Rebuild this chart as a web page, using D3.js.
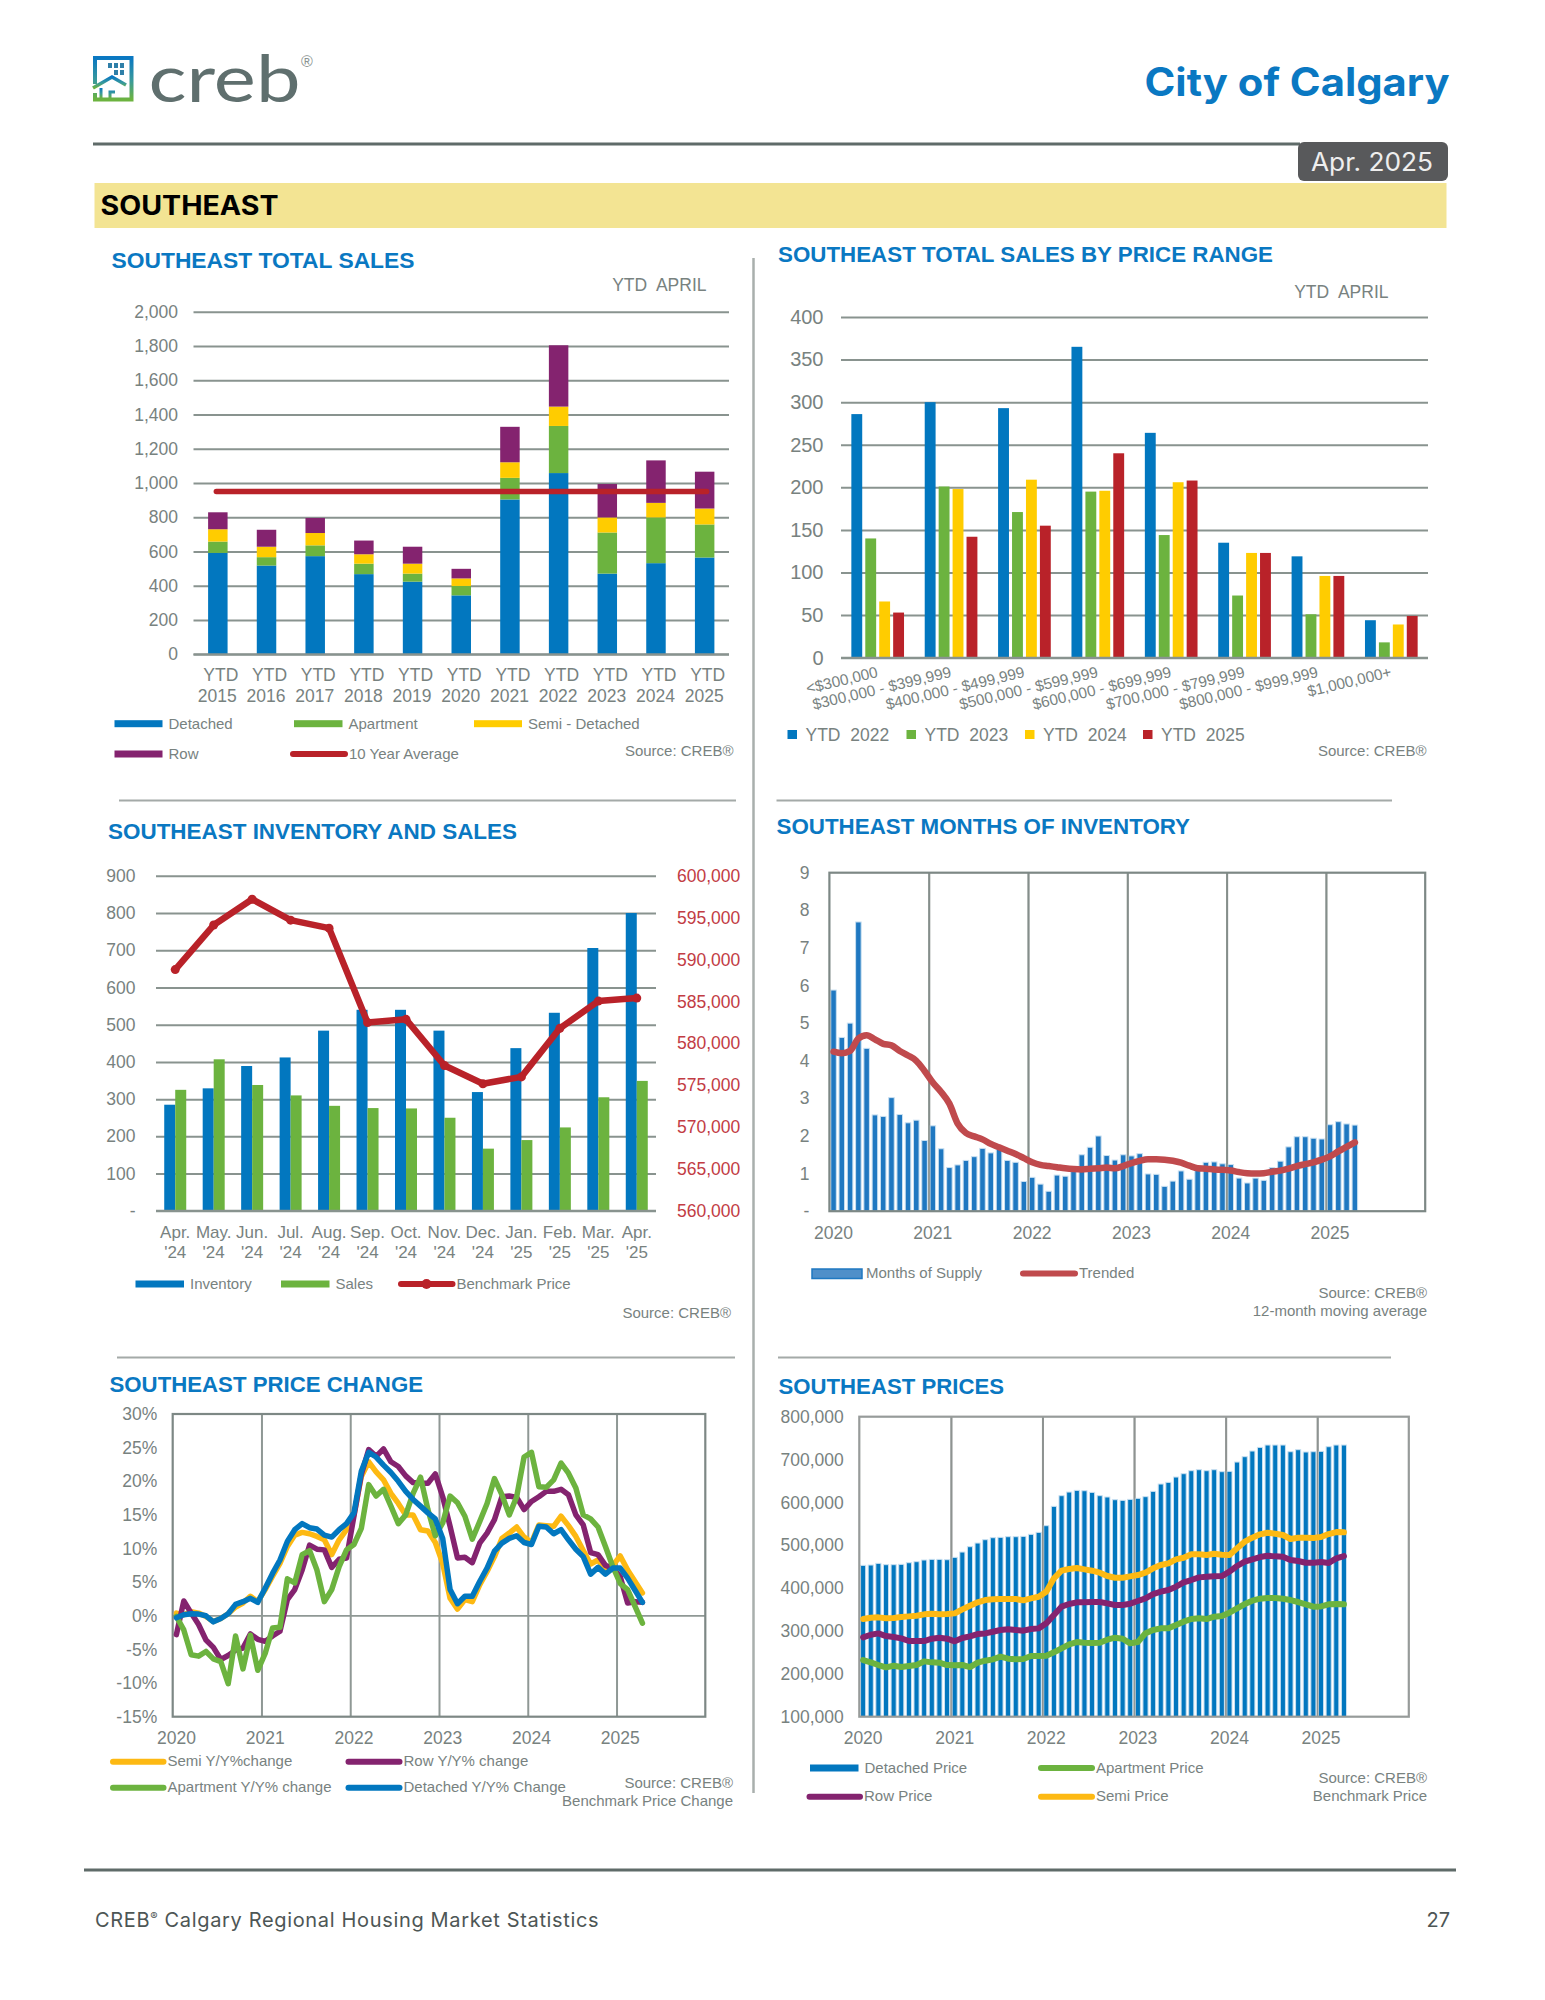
<!DOCTYPE html>
<html>
<head>
<meta charset="utf-8">
<title>Southeast - City of Calgary</title>
<script src="https://cdn.jsdelivr.net/npm/d3@7"></script>
<style>
  body { margin: 0; background: #fff; }
  svg { display: block; }
  text { font-family: "Liberation Sans", Arial, sans-serif; }
</style>
</head>
<body>
<script>
// Chart 1: total sales
const years = ["2015", "2016", "2017", "2018", "2019", "2020", "2021", "2022", "2023", "2024", "2025"];
const salesDetached = [592, 518, 573, 468, 424, 344, 904, 1058, 471, 532, 565];
const salesApartment = [66, 49, 63, 61, 47, 55, 126, 275, 240, 267, 193];
const salesSemi = [72, 61, 72, 55, 58, 44, 91, 113, 88, 85, 93];
const salesRow = [99, 99, 88, 80, 99, 56, 207, 358, 195, 248, 215];
const tenYearAverage = 950;

// Chart 2: sales by price range
const priceRanges = ["<$300,000", "$300,000 - $399,999", "$400,000 - $499,999", "$500,000 - $599,999",
  "$600,000 - $699,999", "$700,000 - $799,999", "$800,000 - $999,999", "$1,000,000+"];
const rangeYears = ["YTD  2022", "YTD  2023", "YTD  2024", "YTD  2025"];
const range2022 = [286, 300, 293, 365, 264, 135, 119, 44];
const range2023 = [140, 201, 171, 195, 144, 73, 51, 18];
const range2024 = [66, 198, 209, 196, 206, 123, 96, 39];
const range2025 = [53, 142, 155, 240, 208, 123, 96, 49];

// Chart 3: inventory and sales
const invMonths = ["Apr.|'24", "May.|'24", "Jun.|'24", "Jul.|'24", "Aug.|'24", "Sep.|'24", "Oct.|'24",
  "Nov.|'24", "Dec.|'24", "Jan.|'25", "Feb.|'25", "Mar.|'25", "Apr.|'25"];
const inventory = [285, 329, 389, 412, 484, 540, 540, 484, 319, 437, 532, 706, 800];
const sales = [325, 407, 338, 310, 282, 276, 275, 250, 167, 190, 224, 305, 349];
const benchmark = [588800, 594120, 597200, 594700, 593750, 582490, 582860, 577350, 575170, 575990, 581790, 585040, 585400];

// Chart 4: months of inventory, Jan 2020 to Apr 2025
const monthsSupply = [5.88, 4.62, 5.0, 7.69, 4.33, 2.56, 2.52, 3.02, 2.57, 2.35, 2.42, 1.88,
  2.27, 1.66, 1.16, 1.23, 1.35, 1.45, 1.67, 1.55, 1.72, 1.35, 1.30, 0.79,
  0.9, 0.72, 0.53, 0.96, 0.93, 1.09, 1.5, 1.70, 2.0, 1.48, 1.36, 1.5,
  1.47, 1.53, 0.99, 0.98, 0.66, 0.80, 1.07, 0.85, 1.13, 1.30, 1.31, 1.26,
  1.24, 0.88, 0.75, 0.88, 0.82, 1.16, 1.33, 1.71, 1.98, 1.98, 1.94, 1.92,
  2.30, 2.38, 2.32, 2.29];
const monthsTrended = [4.24, 4.20, 4.26, 4.59, 4.68, 4.57, 4.45, 4.41, 4.26, 4.14, 4.0, 3.73,
  3.42, 3.17, 2.86, 2.33, 2.08, 1.99, 1.91, 1.79, 1.70, 1.61, 1.52, 1.41,
  1.30, 1.23, 1.20, 1.17, 1.14, 1.12, 1.11, 1.13, 1.14, 1.16, 1.14, 1.20,
  1.28, 1.34, 1.38, 1.38, 1.37, 1.34, 1.29, 1.21, 1.14, 1.13, 1.11, 1.10,
  1.08, 1.04, 1.01, 1.00, 1.01, 1.05, 1.08, 1.13, 1.20, 1.25, 1.30, 1.37,
  1.46, 1.59, 1.71, 1.83];

// Chart 5: price change, percent
const semiChange = [0.4, 0.15, 0.6, 0.4, -0.1, -0.85, -0.4, 0.3, 1.3, 1.9, 2.9, 2.1,
  3.9, 5.9, 7.8, 10.3, 12.0, 12.4, 12.2, 11.8, 11.3, 9.1, 11.3, 12.8,
  15, 20.7, 22.9, 21.4, 20.2, 18.2, 16.7, 15, 15, 12.8, 12.6, 10.9,
  7.8, 2.6, 1.0, 2.4, 2.1, 4.6, 6.6, 8.8, 11.5, 12.3, 13.2, 11.7,
  10.9, 13.5, 13.4, 13.3, 14.8, 13.4, 11.8, 9.7, 7.7, 8.3, 6.8, 7.5,
  8.9, 6.8, 5.1, 3.4];
const rowChange = [-2.8, 2.2, 0.4, -1.3, -3.6, -4.7, -6.5, -5.9, -5.1, -4.8, -2.7, -3.5,
  -3.8, -3.0, -2.3, 2.4, 3.9, 6.8, 10.5, 9.9, 9.8, 7.2, 8.4, 8.6,
  14.8, 21, 24.7, 23.7, 24.8, 22.9, 22.2, 20.8, 19.8, 19.7, 19.7, 21.1,
  17.7, 13.3, 8.6, 8.7, 7.9, 10.8, 12.3, 14.3, 17.7, 17.8, 17.6, 15.8,
  17.0, 17.7, 18.5, 18.5, 18.8, 18, 15, 13.5, 9.4, 9.1, 7.5, 7.1,
  5.8, 1.9, 2.1, 2.0];
const apartmentChange = [-0.1, -2.1, -5.8, -6.0, -5.3, -6.4, -6.8, -10.1, -3.0, -7.9, -2.9, -8.1,
  -5.6, -1.8, -1.7, 5.5, 4.9, 9.1, 9.7, 6.8, 2.1, 3.9, 7.3, 9.8,
  10.6, 13, 19.5, 17.8, 18.8, 16.3, 13.7, 15, 18.2, 20.6, 15.8, 11.9,
  13.8, 17.8, 16.8, 14.8, 11.4, 14.0, 16.7, 20.4, 18, 15, 17.7, 23.6,
  24.3, 19.2, 19.1, 20.2, 22.7, 21.2, 19, 15, 14.4, 13.2, 10.3, 7.3,
  4.8, 3.9, 1.4, -1.1];
const detachedChange = [-0.3, 0.15, 0.3, 0.25, 0, -0.9, -0.4, 0.3, 1.7, 2.1, 2.6, 2.0,
  4.1, 6.3, 8.3, 11.05, 12.8, 13.7, 13.1, 12.9, 12.0, 11.7, 12.8, 13.7,
  15.3, 21.5, 24.3, 23.6, 22.4, 21.3, 20.0, 18.5, 17.3, 16.3, 15.3, 14.4,
  11.5, 3.9, 1.8, 2.9, 2.9, 5.1, 7.1, 9.6, 10.8, 11.5, 11.9, 10.9,
  10.6, 13.3, 13.2, 12.2, 12.8, 11.3, 9.9, 8.8, 6.2, 7.2, 6.2, 7.1,
  7.1, 5.6, 3.8, 2.0];

// Chart 6: benchmark prices
const detachedPrice = [453100, 453900, 457800, 454700, 454700, 455500, 459300, 461700, 465600, 467100, 467100, 466300,
  471800, 484200, 496700, 505200, 513000, 517700, 518500, 520000, 520000, 520800, 525500, 530100,
  545700, 590800, 615700, 624200, 628100, 627300, 623400, 615700, 612600, 606300, 604800, 607100,
  609500, 613400, 625800, 642900, 646800, 659200, 667000, 674000, 676300, 674000, 676300, 671700,
  672500, 694200, 706700, 719900, 728400, 733900, 733900, 733900, 718300, 723000, 717600, 718300,
  719100, 730000, 733900, 733900];
const semiPrice = [327900, 331000, 331800, 329500, 330200, 332600, 334100, 335700, 338800, 340300, 338800, 339600,
  341100, 350400, 359000, 366800, 372200, 373800, 374500, 374500, 374500, 371500, 376100, 380000,
  391700, 422800, 440700, 444600, 446900, 443800, 440700, 436000, 428200, 424300, 424300, 427500,
  430600, 436000, 446100, 453900, 457800, 467100, 471000, 478800, 478800, 477200, 480300, 478000,
  477200, 492800, 508300, 517700, 525500, 529300, 527000, 523900, 514600, 517700, 517700, 516900,
  519200, 526200, 530900, 530100];
const rowPrice = [285100, 291300, 294400, 288200, 285900, 282800, 276600, 276600, 276600, 282000, 284300, 282000,
  275800, 283600, 287400, 292900, 294400, 298300, 302200, 303800, 302200, 300700, 304600, 306100,
  317800, 337200, 356700, 362900, 366800, 366800, 367600, 367600, 364500, 360600, 360600, 363700,
  369900, 376100, 386200, 391700, 395600, 403300, 413500, 418900, 425100, 426700, 427500, 428200,
  438300, 451600, 461700, 467100, 472600, 475700, 474100, 473300, 465600, 463200, 459300, 459300,
  460900, 458600, 469500, 474900];
const apartmentPrice = [232200, 226800, 220600, 215100, 219000, 215900, 218200, 220600, 229100, 226800, 226000, 220600,
  219800, 220600, 215900, 226000, 230700, 233800, 240000, 235300, 233800, 234600, 241600, 241600,
  242300, 250100, 259500, 268800, 274200, 272700, 271900, 272700, 279700, 284300, 282000, 271100,
  274200, 294500, 302200, 306100, 306100, 313900, 321700, 327900, 329500, 327900, 333300, 334900,
  342700, 352800, 362900, 370700, 375300, 376900, 376900, 375300, 372200, 367600, 362100, 356700,
  357400, 362100, 362900, 362100];

const BLUE = "#0277bf", GREEN = "#6cb33f", YELLOW = "#ffcc00", PURPLE = "#84236f", RED = "#b92229";
const TITLE_BLUE = "#0a78c2", TEXT = "#78827f", GRID = "#89938f";
const comma = d3.format(",");

const svg = d3.select("body").append("svg")
  .attr("width", 1545)
  .attr("height", 2000);

// small helpers
function label(x, y, str, size, opts) {
  opts = opts || {};
  const t = svg.append("text")
    .attr("x", x)
    .attr("y", y)
    .attr("font-size", size)
    .attr("fill", opts.fill || TEXT)
    .attr("text-anchor", opts.anchor || "start")
    .attr("xml:space", "preserve")
    .style("white-space", "pre")
    .text(str);
  if (opts.bold) t.attr("font-weight", "bold");
  if (opts.family) t.style("font-family", opts.family);
  if (opts.width) t.attr("textLength", opts.width).attr("lengthAdjust", "spacingAndGlyphs");
  return t;
}
function rule(x1, x2, y1, y2, color, w) {
  svg.append("line").attr("x1", x1).attr("x2", x2).attr("y1", y1).attr("y2", y2)
    .attr("stroke", color).attr("stroke-width", w);
}
function title(x, y, str, width) {
  label(x, y, str, 22, {fill: TITLE_BLUE, bold: true, width: width});
}
function swatch(x1, x2, y, color, txt, base) {
  svg.append("rect").attr("x", x1).attr("y", y - 3.5).attr("width", x2 - x1).attr("height", 7).attr("fill", color);
  label(x2 + 6, base, txt, 15);
}
function lineKey(x1, x2, y, color, txt, base) {
  svg.append("line").attr("x1", x1).attr("x2", x2).attr("y1", y).attr("y2", y)
    .attr("stroke", color).attr("stroke-width", 6).attr("stroke-linecap", "round");
  label(x2 + 4, base, txt, 15);
}
function styleAxis(g, size, color) {
  g.select(".domain").remove();
  g.selectAll("line").attr("stroke", GRID).attr("stroke-width", 2);
  g.selectAll("text").attr("font-size", size).attr("fill", color || TEXT)
    .style("font-family", '"Liberation Sans", Arial, sans-serif');
}
function leftAxis(y, left, width, values, fmt, pad, size, color) {
  const axis = d3.axisLeft(y).tickValues(values).tickFormat(fmt).tickSize(-width).tickPadding(pad);
  const g = svg.append("g").attr("transform", "translate(" + left + ",0)").call(axis);
  styleAxis(g, size, color);
  return g;
}

// ---------- page furniture ----------
const defs = svg.append("defs");
const logoGrad = defs.append("linearGradient").attr("id", "logoGrad").attr("x1", 0).attr("x2", 0).attr("y1", 0).attr("y2", 1);
logoGrad.append("stop").attr("offset", "0%").attr("stop-color", "#0a78c2");
logoGrad.append("stop").attr("offset", "55%").attr("stop-color", "#3a9a9a");
logoGrad.append("stop").attr("offset", "100%").attr("stop-color", "#6cb33f");

const logo = svg.append("g").attr("fill", "none").attr("stroke", "url(#logoGrad)");
logo.append("path").attr("stroke-width", 4).attr("d", "M95 84V58H131.5V99.5H95V93");
logo.append("path").attr("stroke-width", 3.5).attr("d", "M93 88L112 77L126 85");
logo.append("path").attr("stroke-width", 3).attr("d", "M101 88V98M110 98V92H115");
const logoWindows = [[108, 63], [114, 63], [120, 63], [114, 70], [120, 70]];
svg.append("g").selectAll("rect").data(logoWindows).join("rect")
  .attr("x", d => d[0]).attr("y", d => d[1]).attr("width", 4).attr("height", 5).attr("fill", "#2f7fa8");
label(148.5, 101.5, "creb", 66, {fill: "#5f6f6e", family: "Lato", width: 152});
label(301, 67, "®", 16, {fill: "#8a9391"});

label(1144.5, 96, "City of Calgary", 39, {fill: TITLE_BLUE, bold: true, family: "Inter", width: 305});

rule(93, 1300, 144, 144, "#5f6b69", 3);
svg.append("rect").attr("x", 1298).attr("y", 142).attr("width", 150).attr("height", 39).attr("rx", 6).attr("fill", "#58595b");
label(1311, 171, "Apr. 2025", 25, {fill: "#eeeeee", family: "Inter", width: 122});

svg.append("rect").attr("x", 94.5).attr("y", 183).attr("width", 1352).attr("height", 45).attr("fill", "#f3e493");
label(100.5, 215, "SOUTHEAST", 26.5, {fill: "#000000", bold: true, family: "Inter", width: 178});

rule(753.5, 753.5, 258, 1793, "#a9afad", 2.5);
rule(119, 736, 800.5, 800.5, "#a4aaa8", 2);
rule(776.5, 1392, 800.5, 800.5, "#a4aaa8", 2);
rule(117, 735, 1357.5, 1357.5, "#a4aaa8", 2);
rule(778, 1391, 1357.5, 1357.5, "#a4aaa8", 2);

rule(84, 1456, 1870, 1870, "#5f6b69", 3);
const foot = label(95, 1927, "CREB", 20, {fill: "#4d5655", family: "Inter"}).style("letter-spacing", "0.66px");
foot.append("tspan").attr("font-size", 11).attr("dy", -7).text("®");
foot.append("tspan").attr("dy", 7).text(" Calgary Regional Housing Market Statistics");
label(1450, 1927, "27", 20, {fill: "#4d5655", family: "Inter", anchor: "end"});

// ---------- chart 1: stacked bars ----------
(function () {
  title(111.5, 268, "SOUTHEAST TOTAL SALES", 303);
  label(706.5, 290.5, "YTD  APRIL", 17.5, {anchor: "end"});

  const rows = years.map((yr, i) => ({year: yr, Detached: salesDetached[i], Apartment: salesApartment[i], Semi: salesSemi[i], Row: salesRow[i]}));
  const stack = d3.stack().keys(["Detached", "Apartment", "Semi", "Row"])(rows);
  const color = d3.scaleOrdinal().domain(["Detached", "Apartment", "Semi", "Row"]).range([BLUE, GREEN, YELLOW, PURPLE]);

  const x = d3.scaleBand().domain(years).range([193.5, 729]).paddingInner(0.6).paddingOuter(0.3);
  const y = d3.scaleLinear().domain([0, 2000]).range([654.3, 311.7]);

  leftAxis(y, 193.5, 535.5, d3.range(0, 2001, 200), comma, 15.5, 17.5);

  svg.append("g").selectAll("g").data(stack).join("g")
    .attr("fill", d => color(d.key))
    .selectAll("rect").data(d => d).join("rect")
    .attr("x", d => x(d.data.year))
    .attr("width", x.bandwidth())
    .attr("y", d => y(d[1]))
    .attr("height", d => y(d[0]) - y(d[1]));

  const xg = svg.append("g").attr("transform", "translate(0,654.3)")
    .call(d3.axisBottom(x).tickSize(0));
  styleAxis(xg, 17.5);
  xg.selectAll("text").each(function (d) {
    const t = d3.select(this).text(null).attr("dy", null);
    t.append("tspan").attr("x", 3).attr("y", 27).text("YTD");
    t.append("tspan").attr("x", -0.5).attr("y", 48).text(d);
  });
  svg.append("line").attr("x1", 193.5).attr("x2", 729).attr("y1", y(0)).attr("y2", y(0)).attr("stroke", GRID).attr("stroke-width", 2);

  svg.append("line")
    .attr("x1", x(years[0]) + x.bandwidth() / 2 - 1.5)
    .attr("x2", x(years[10]) + x.bandwidth() / 2 + 2)
    .attr("y1", y(tenYearAverage)).attr("y2", y(tenYearAverage))
    .attr("stroke", RED).attr("stroke-width", 5.5).attr("stroke-linecap", "round");

  swatch(114.5, 162.5, 723.7, BLUE, "Detached", 728.5);
  swatch(294, 342.5, 723.7, GREEN, "Apartment", 728.5);
  swatch(474, 522, 723.7, YELLOW, "Semi - Detached", 728.5);
  swatch(114.5, 162.5, 754, PURPLE, "Row", 759);
  lineKey(293, 345, 754, RED, "10 Year Average", 759);
  label(733.5, 756, "Source: CREB®", 15, {anchor: "end"});
})();

// ---------- chart 2: grouped bars ----------
(function () {
  title(778, 262, "SOUTHEAST TOTAL SALES BY PRICE RANGE", 495);
  label(1388.5, 298, "YTD  APRIL", 17.5, {anchor: "end"});

  const series = [range2022, range2023, range2024, range2025];
  const colors = [BLUE, GREEN, YELLOW, RED];

  const x = d3.scaleBand().domain(priceRanges).range([841, 1428]).paddingInner(0.282).paddingOuter(0.141);
  const inner = d3.scaleBand().domain(d3.range(4)).range([0, x.bandwidth()]).paddingInner(0.22);
  const y = d3.scaleLinear().domain([0, 400]).range([657.7, 317]);

  leftAxis(y, 841, 587, d3.range(0, 401, 50), d => d, 17.5, 20);

  svg.append("g").selectAll("g").data(series).join("g")
    .attr("fill", (d, i) => colors[i])
    .each(function (vals, s) {
      d3.select(this).selectAll("rect").data(vals).join("rect")
        .attr("x", (d, i) => x(priceRanges[i]) + inner(s))
        .attr("width", inner.bandwidth())
        .attr("y", d => y(d))
        .attr("height", d => y(0) - y(d));
    });
  svg.append("line").attr("x1", 841).attr("x2", 1428).attr("y1", y(0)).attr("y2", y(0)).attr("stroke", GRID).attr("stroke-width", 2);

  const xg = svg.append("g").attr("transform", "translate(0,657.7)")
    .call(d3.axisBottom(x).tickSize(0));
  styleAxis(xg, 15.4);
  xg.selectAll("text")
    .attr("y", null).attr("dy", null)
    .attr("text-anchor", "end")
    .attr("transform", "translate(1,19) rotate(-13.5)");

  const keyX = [787.5, 906.5, 1025, 1143];
  rangeYears.forEach((name, i) => {
    svg.append("rect").attr("x", keyX[i]).attr("y", 730).attr("width", 9.5).attr("height", 9).attr("fill", colors[i]);
    label(keyX[i] + 18, 741, name, 17.5);
  });
  label(1426.5, 756, "Source: CREB®", 15, {anchor: "end"});
})();

// ---------- chart 3: bars and price line on two axes ----------
(function () {
  title(108, 838.5, "SOUTHEAST INVENTORY AND SALES", 409);

  const x = d3.scaleBand().domain(invMonths).range([156, 656]).paddingInner(0.428).paddingOuter(0.214);
  const inner = d3.scaleBand().domain(d3.range(2)).range([0, x.bandwidth()]);
  const y = d3.scaleLinear().domain([0, 900]).range([1210.8, 875.8]);
  const y2 = d3.scaleLinear().domain([560000, 600000]).range([1210.8, 875.8]);

  leftAxis(y, 156, 500, d3.range(0, 901, 100), d => d === 0 ? "-" : d, 20.5, 17.5);

  const rightAxis = d3.axisRight(y2).tickValues(d3.range(560000, 600001, 5000)).tickFormat(comma).tickSize(0).tickPadding(21);
  const rg = svg.append("g").attr("transform", "translate(656,0)").call(rightAxis);
  styleAxis(rg, 17.5, "#c23c44");

  [inventory, sales].forEach((vals, s) => {
    svg.append("g").attr("fill", s === 0 ? BLUE : GREEN)
      .selectAll("rect").data(vals).join("rect")
      .attr("x", (d, i) => x(invMonths[i]) + inner(s))
      .attr("width", inner.bandwidth())
      .attr("y", d => y(d))
      .attr("height", d => y(0) - y(d));
  });
  svg.append("line").attr("x1", 156).attr("x2", 656).attr("y1", y(0)).attr("y2", y(0)).attr("stroke", GRID).attr("stroke-width", 2);

  const cx = i => x(invMonths[i]) + x.bandwidth() / 2;
  const priceLine = d3.line().x((d, i) => cx(i)).y(d => y2(d));
  svg.append("path").datum(benchmark).attr("d", priceLine)
    .attr("fill", "none").attr("stroke", RED).attr("stroke-width", 6.5).attr("stroke-linejoin", "round");
  svg.append("g").selectAll("circle").data(benchmark).join("circle")
    .attr("cx", (d, i) => cx(i)).attr("cy", d => y2(d)).attr("r", 4.5).attr("fill", RED);

  const xg = svg.append("g").attr("transform", "translate(0,1210.8)")
    .call(d3.axisBottom(x).tickSize(0));
  styleAxis(xg, 17);
  xg.selectAll("text").each(function (d) {
    const parts = d.split("|");
    const t = d3.select(this).text(null).attr("dy", null);
    t.append("tspan").attr("x", 0).attr("y", 27).text(parts[0]);
    t.append("tspan").attr("x", 0).attr("y", 47).text(parts[1]);
  });

  swatch(135.5, 184, 1284, BLUE, "Inventory", 1288.5);
  swatch(281, 329.5, 1284, GREEN, "Sales", 1288.5);
  lineKey(401, 452.5, 1284, RED, "Benchmark Price", 1288.5);
  svg.append("circle").attr("cx", 426.5).attr("cy", 1284).attr("r", 5).attr("fill", RED);
  label(731, 1318, "Source: CREB®", 15, {anchor: "end"});
})();

// shared scales for the four-axis monthly charts, six years of months
const monthIndex = d3.range(72);
function monthScale(left, right) {
  return d3.scaleBand().domain(monthIndex).range([left, right]).paddingInner(0.33).paddingOuter(0.165);
}
function yearAxis(x, base, textPad, size) {
  const g = svg.append("g").attr("transform", "translate(0," + base + ")")
    .call(d3.axisBottom(x).tickValues(d3.range(0, 72, 12)).tickFormat(i => 2020 + i / 12).tickSize(0).tickPadding(textPad));
  styleAxis(g, size);
}
function yearLines(left, right, top, bottom, color) {
  const pos = d3.scaleLinear().domain([0, 72]).range([left, right]);
  const g = svg.append("g").attr("transform", "translate(0," + top + ")")
    .call(d3.axisBottom(pos).tickValues(d3.range(12, 72, 12)).tickFormat("").tickSize(bottom - top));
  g.select(".domain").remove();
  g.selectAll("line").attr("stroke", color).attr("stroke-width", 2);
}
function frame(left, right, top, bottom, color) {
  svg.append("rect").attr("x", left).attr("y", top).attr("width", right - left).attr("height", bottom - top)
    .attr("fill", "none").attr("stroke", color).attr("stroke-width", 2.2);
}

// ---------- chart 4: months of inventory ----------
(function () {
  title(776.5, 833.5, "SOUTHEAST MONTHS OF INVENTORY", 413.5);

  const left = 829.4, right = 1425.2, top = 872.7, bottom = 1211.2;
  const x = monthScale(left, right);
  const y = d3.scaleLinear().domain([0, 9]).range([bottom, top]);

  const ag = svg.append("g").attr("transform", "translate(" + left + ",0)")
    .call(d3.axisLeft(y).tickValues(d3.range(0, 10)).tickFormat(d => d === 0 ? "-" : d).tickSize(0).tickPadding(20));
  styleAxis(ag, 17.5);

  yearLines(left, right, top, bottom, "#8f9895");
  svg.append("g").selectAll("rect").data(monthsSupply).join("rect")
    .attr("x", (d, i) => x(i))
    .attr("width", x.bandwidth())
    .attr("y", d => y(d))
    .attr("height", d => y(0) - y(d))
    .attr("fill", "#1f78c1")
    .attr("stroke", "#c9e0f1").attr("stroke-width", 1);
  yearLines(left, right, top, bottom, "rgba(125,135,132,0.55)");
  frame(left, right, top, bottom, "#7d8885");

  const trend = d3.line().x((d, i) => x(i) + x.bandwidth() / 2).y(d => y(d)).curve(d3.curveMonotoneX);
  svg.append("path").datum(monthsTrended).attr("d", trend)
    .attr("fill", "none").attr("stroke", "#c04a4d").attr("stroke-width", 6.5)
    .attr("stroke-linecap", "round").attr("stroke-linejoin", "round");

  yearAxis(x, bottom, 15.5, 17.5);

  svg.append("rect").attr("x", 812).attr("y", 1269).attr("width", 50).attr("height", 9.5)
    .attr("fill", "#4f8fc9").attr("stroke", "#1f78c1").attr("stroke-width", 1.5);
  label(866, 1278, "Months of Supply", 15);
  lineKey(1023, 1075, 1273.5, "#c04a4d", "Trended", 1278);
  label(1427, 1298, "Source: CREB®", 15, {anchor: "end"});
  label(1427, 1315.5, "12-month moving average", 15, {anchor: "end"});
})();

// ---------- chart 5: price change lines ----------
(function () {
  title(109.5, 1392, "SOUTHEAST PRICE CHANGE", 313.5);

  const left = 172.7, right = 705.3, top = 1414, bottom = 1716.7;
  const x = monthScale(left, right);
  const y = d3.scaleLinear().domain([-15, 30]).range([bottom, top]);

  const ag = svg.append("g").attr("transform", "translate(" + left + ",0)")
    .call(d3.axisLeft(y).tickValues(d3.range(-15, 31, 5)).tickFormat(d => d + "%").tickSize(0).tickPadding(15.5));
  styleAxis(ag, 17.5);

  yearLines(left, right, top, bottom, "#8f9895");
  svg.append("line").attr("x1", left).attr("x2", right).attr("y1", y(0)).attr("y2", y(0)).attr("stroke", "#8f9895").attr("stroke-width", 1.8);
  frame(left, right, top, bottom, "#7d8885");

  const line = d3.line().x((d, i) => x(i) + x.bandwidth() / 2).y(d => y(d));
  [[semiChange, "#fdb913"], [rowChange, PURPLE], [apartmentChange, GREEN], [detachedChange, BLUE]].forEach(s => {
    svg.append("path").datum(s[0]).attr("d", line)
      .attr("fill", "none").attr("stroke", s[1]).attr("stroke-width", 5.5)
      .attr("stroke-linecap", "round").attr("stroke-linejoin", "round");
  });

  yearAxis(x, bottom, 15, 17.5);

  lineKey(113, 163.5, 1761.7, "#fdb913", "Semi Y/Y%change", 1766);
  lineKey(348.5, 399.5, 1761.7, PURPLE, "Row Y/Y% change", 1766);
  lineKey(113, 163.5, 1787.7, GREEN, "Apartment Y/Y% change", 1792);
  lineKey(348.5, 399.5, 1787.7, BLUE, "Detached Y/Y% Change", 1792);
  label(733, 1788, "Source: CREB®", 15, {anchor: "end"});
  label(733, 1805.5, "Benchmark Price Change", 15, {anchor: "end"});
})();

// ---------- chart 6: prices ----------
(function () {
  title(778.5, 1394, "SOUTHEAST PRICES", 225.5);

  const left = 859.3, right = 1408.8, top = 1416.7, bottom = 1716.7;
  const x = monthScale(left, right);
  const y = d3.scaleLinear().domain([100000, 800000]).range([bottom, top]);

  const ag = svg.append("g").attr("transform", "translate(" + left + ",0)")
    .call(d3.axisLeft(y).tickValues(d3.range(100000, 800001, 100000)).tickFormat(comma).tickSize(0).tickPadding(15.5));
  styleAxis(ag, 17.5);

  yearLines(left, right, top, bottom, "#979b9a");
  svg.append("g").selectAll("rect").data(detachedPrice).join("rect")
    .attr("x", (d, i) => x(i))
    .attr("width", x.bandwidth())
    .attr("y", d => y(d))
    .attr("height", d => y(100000) - y(d))
    .attr("fill", BLUE)
    .attr("stroke", "#c9e0f1").attr("stroke-width", 1);
  yearLines(left, right, top, bottom, "rgba(135,140,138,0.55)");
  frame(left, right, top, bottom, "#979b9a");

  const line = d3.line().x((d, i) => x(i) + x.bandwidth() / 2).y(d => y(d));
  [[apartmentPrice, GREEN], [rowPrice, PURPLE], [semiPrice, "#fdb913"]].forEach(s => {
    svg.append("path").datum(s[0]).attr("d", line)
      .attr("fill", "none").attr("stroke", s[1]).attr("stroke-width", 6)
      .attr("stroke-linecap", "round").attr("stroke-linejoin", "round");
  });

  yearAxis(x, bottom, 15, 17.5);

  swatch(810, 858.5, 1768, BLUE, "Detached Price", 1772.7);
  lineKey(1041, 1092, 1768, GREEN, "Apartment Price", 1772.7);
  lineKey(809.5, 860, 1796.7, PURPLE, "Row Price", 1801);
  lineKey(1041, 1092, 1796.7, "#fdb913", "Semi Price", 1801);
  label(1427, 1783, "Source: CREB®", 15, {anchor: "end"});
  label(1427, 1800.5, "Benchmark Price", 15, {anchor: "end"});
})();
</script>
</body>
</html>
